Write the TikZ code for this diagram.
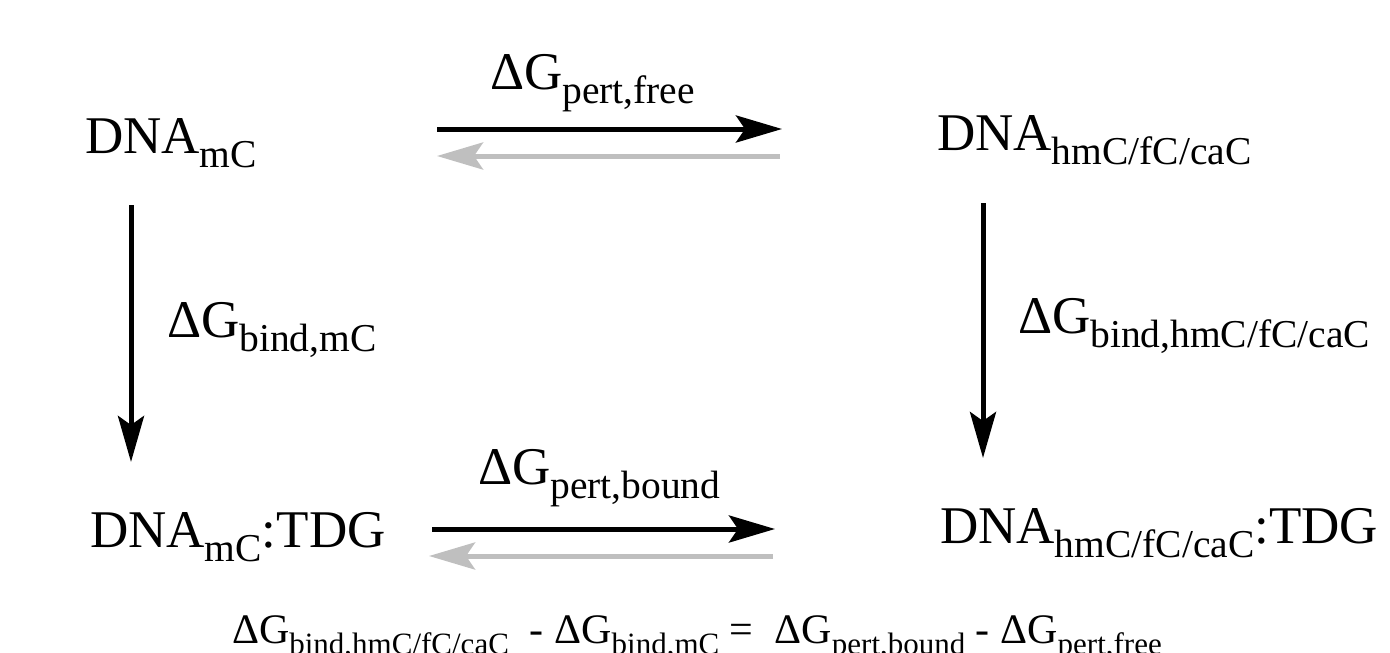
\documentclass[tikz,border=0pt]{standalone}
\usepackage{fontspec}
\setmainfont{Liberation Serif}
\usetikzlibrary{arrows.meta}
\definecolor{revgray}{RGB}{191,191,191}
\newcommand\bigsub[2]{{\fontsize{53}{60}\selectfont #1\raisebox{-14pt}{\fontsize{39.5}{42}\selectfont #2}}}
\newcommand\eqsub[2]{{\fontsize{42}{50}\selectfont #1\raisebox{-11pt}{\fontsize{31}{34}\selectfont #2}}}
\begin{document}
\begin{tikzpicture}[x=1pt,y=-1pt,
  txt/.style={anchor=base west,inner sep=0pt,outer sep=0pt},
  fwd/.style={line width=5pt,draw=black,-{Stealth[length=46pt,width=27pt,inset=9pt]}},
  rev/.style={line width=5pt,draw=revgray,-{Stealth[length=46pt,width=27pt,inset=9pt]}},
  down/.style={line width=5pt,draw=black,-{Stealth[length=46pt,width=26pt,inset=9pt]}}]
\useasboundingbox (0,0) rectangle (1390,653);
% species
\node[txt] (dmc)  at (85,153)  {\bigsub{DNA}{mC}};
\node[txt] (dhm)  at (937,150) {\bigsub{DNA}{hmC/fC/caC}};
\node[txt] (dmct) at (90,547)  {\bigsub{DNA}{mC}{\fontsize{53}{60}\selectfont :TDG}};
\node[txt] (dhmt) at (940,543) {\bigsub{DNA}{hmC/fC/caC}{\fontsize{53}{60}\selectfont :TDG}};
% labels
\node[txt] (lpf) at (490,89)  {\bigsub{ΔG}{pert,free}};
\node[txt] (lpb) at (478,484) {\bigsub{ΔG}{pert,bound}};
\node[txt] (lbm) at (167,337) {\bigsub{ΔG}{bind,mC}};
\node[txt] (lbh) at (1018,333) {\bigsub{ΔG}{bind,hmC/fC/caC}};
% arrow end points
\coordinate (tf1) at (437,129); \coordinate (tf2) at (782,129);
\coordinate (tr1) at (780,156); \coordinate (tr2) at (437,156);
\coordinate (bf1) at (432,529); \coordinate (bf2) at (775,529);
\coordinate (br1) at (773,556); \coordinate (br2) at (429,556);
\coordinate (ld1) at (131,205); \coordinate (ld2) at (131,462);
\coordinate (rd1) at (983,203); \coordinate (rd2) at (983,458);
\draw[fwd] (tf1) -- (tf2);
\draw[rev] (tr1) -- (tr2);
\draw[fwd] (bf1) -- (bf2);
\draw[rev] (br1) -- (br2);
\draw[down] (ld1) -- (ld2);
\draw[down] (rd1) -- (rd2);
% equation
\node[txt] (eq) at (232,643) {\eqsub{ΔG}{bind,hmC/fC/caC}{\fontsize{42}{50}\selectfont\ \ - }\eqsub{ΔG}{bind,mC}{\fontsize{42}{50}\selectfont\ =\ \ }\eqsub{ΔG}{pert,bound}{\fontsize{42}{50}\selectfont\ - }\eqsub{ΔG}{pert,free}};
\end{tikzpicture}
\end{document}
